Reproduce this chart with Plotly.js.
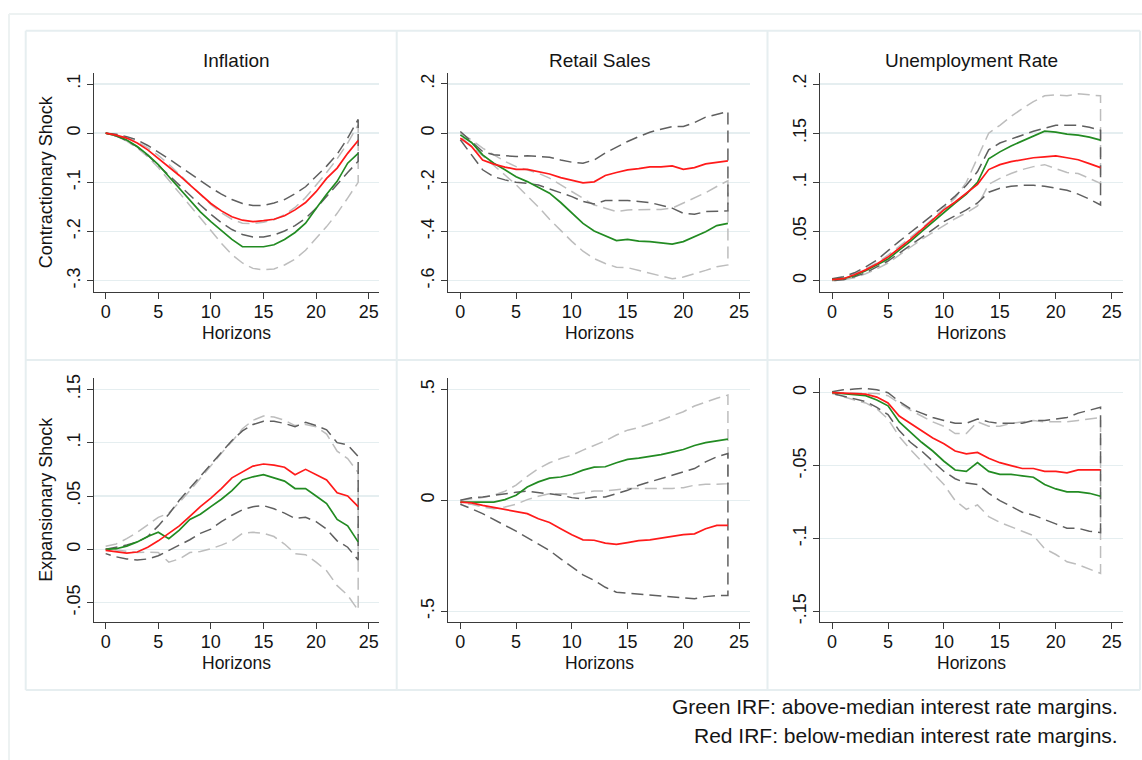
<!DOCTYPE html>
<html>
<head>
<meta charset="utf-8">
<script src="https://cdn.plot.ly/plotly-3.0.1.min.js"></script>
<style>html,body{margin:0;padding:0;background:#fff;}#chart{width:1142px;height:760px;}</style>
</head>
<body>
<div id="chart"></div>
<script>
// ---------- DATA ----------
const horizons = [0,1,2,3,4,5,6,7,8,9,10,11,12,13,14,15,16,17,18,19,20,21,22,23,24];

const panelTitles = ["Inflation", "Retail Sales", "Unemployment Rate"];
const rowTitles = ["Contractionary Shock", "Expansionary Shock"];
const xTitle = "Horizons";
const footerLines = ["Green IRF: above-median interest rate margins.", "Red IRF: below-median interest rate margins."];

// Inflation, contractionary
const infC_green   = [0,-0.005,-0.014,-0.027,-0.044,-0.064,-0.088,-0.112,-0.136,-0.16,-0.18,-0.199,-0.216,-0.231,-0.231,-0.231,-0.227,-0.216,-0.202,-0.183,-0.153,-0.124,-0.098,-0.061,-0.041];
const infC_red     = [0,-0.004,-0.01,-0.02,-0.034,-0.051,-0.068,-0.086,-0.105,-0.124,-0.143,-0.158,-0.17,-0.177,-0.18,-0.178,-0.175,-0.168,-0.156,-0.141,-0.119,-0.092,-0.071,-0.041,-0.015];
const infC_greenHi = [0,-0.003,-0.009,-0.018,-0.03,-0.045,-0.063,-0.083,-0.104,-0.125,-0.145,-0.162,-0.175,-0.183,-0.184,-0.181,-0.176,-0.166,-0.151,-0.131,-0.106,-0.08,-0.052,-0.02,0.017];
const infC_greenLo = [0,-0.006,-0.016,-0.03,-0.048,-0.07,-0.094,-0.12,-0.146,-0.172,-0.198,-0.224,-0.247,-0.264,-0.275,-0.278,-0.276,-0.268,-0.256,-0.238,-0.215,-0.19,-0.163,-0.132,-0.1];
const infC_redHi   = [0,-0.002,-0.007,-0.014,-0.025,-0.038,-0.052,-0.067,-0.082,-0.097,-0.111,-0.124,-0.135,-0.143,-0.147,-0.147,-0.142,-0.135,-0.123,-0.109,-0.089,-0.067,-0.043,-0.01,0.028];
const infC_redLo   = [0,-0.006,-0.015,-0.028,-0.045,-0.064,-0.085,-0.106,-0.126,-0.146,-0.165,-0.182,-0.196,-0.206,-0.211,-0.211,-0.207,-0.199,-0.188,-0.173,-0.153,-0.13,-0.105,-0.08,-0.057];

// Retail sales, contractionary
const rsC_green   = [-0.007,-0.038,-0.088,-0.122,-0.149,-0.177,-0.197,-0.22,-0.244,-0.282,-0.323,-0.367,-0.398,-0.417,-0.437,-0.432,-0.439,-0.441,-0.445,-0.451,-0.441,-0.421,-0.401,-0.376,-0.367];
const rsC_red     = [-0.02,-0.054,-0.109,-0.126,-0.138,-0.147,-0.147,-0.156,-0.166,-0.181,-0.193,-0.202,-0.198,-0.172,-0.16,-0.149,-0.144,-0.137,-0.137,-0.133,-0.147,-0.14,-0.125,-0.119,-0.113];
const rsC_greenHi = [0,-0.027,-0.061,-0.088,-0.115,-0.136,-0.149,-0.163,-0.183,-0.211,-0.238,-0.265,-0.292,-0.305,-0.319,-0.312,-0.312,-0.31,-0.31,-0.305,-0.285,-0.265,-0.242,-0.217,-0.193];
const rsC_greenLo = [-0.014,-0.05,-0.09,-0.13,-0.17,-0.21,-0.255,-0.3,-0.35,-0.395,-0.44,-0.48,-0.51,-0.53,-0.545,-0.547,-0.558,-0.568,-0.58,-0.592,-0.585,-0.572,-0.558,-0.543,-0.536];
const rsC_redHi   = [0.007,-0.034,-0.075,-0.088,-0.092,-0.095,-0.092,-0.095,-0.098,-0.109,-0.118,-0.122,-0.109,-0.081,-0.057,-0.034,-0.014,0.004,0.016,0.027,0.027,0.043,0.065,0.077,0.088];
const rsC_redLo   = [-0.027,-0.088,-0.149,-0.177,-0.19,-0.2,-0.204,-0.211,-0.224,-0.242,-0.258,-0.278,-0.288,-0.274,-0.274,-0.274,-0.278,-0.282,-0.292,-0.305,-0.326,-0.33,-0.319,-0.316,-0.316];

// Unemployment rate, contractionary
const urC_green   = [0.001,0.002,0.005,0.01,0.016,0.022,0.031,0.04,0.05,0.06,0.07,0.079,0.088,0.1,0.124,0.131,0.137,0.142,0.147,0.152,0.151,0.149,0.148,0.146,0.143];
const urC_red     = [0.001,0.002,0.006,0.011,0.017,0.024,0.033,0.042,0.052,0.062,0.072,0.08,0.089,0.098,0.113,0.118,0.121,0.123,0.125,0.126,0.127,0.125,0.123,0.119,0.115];
const urC_greenHi = [0.001,0.003,0.007,0.012,0.018,0.026,0.035,0.044,0.053,0.063,0.073,0.084,0.1,0.125,0.15,0.158,0.167,0.175,0.182,0.188,0.189,0.188,0.19,0.189,0.188];
const urC_greenLo = [0,0.001,0.003,0.007,0.012,0.018,0.026,0.034,0.042,0.049,0.056,0.063,0.069,0.076,0.098,0.104,0.109,0.113,0.116,0.118,0.114,0.11,0.109,0.104,0.099];
const urC_redHi   = [0.002,0.004,0.008,0.014,0.021,0.031,0.04,0.049,0.058,0.067,0.076,0.086,0.097,0.111,0.133,0.14,0.144,0.148,0.152,0.155,0.158,0.158,0.158,0.156,0.153];
const urC_redLo   = [0,0.001,0.004,0.008,0.014,0.02,0.028,0.036,0.044,0.052,0.06,0.066,0.072,0.079,0.09,0.094,0.096,0.097,0.097,0.096,0.094,0.092,0.088,0.083,0.077];

// Inflation, expansionary
const infE_green   = [0,0.0006,0.003,0.007,0.012,0.016,0.01,0.018,0.028,0.033,0.04,0.047,0.055,0.065,0.068,0.07,0.067,0.064,0.057,0.057,0.05,0.043,0.028,0.022,0.007];
const infE_red     = [-0.001,-0.0025,-0.0035,-0.0025,0.002,0.008,0.015,0.022,0.031,0.04,0.048,0.057,0.067,0.0725,0.078,0.08,0.079,0.077,0.07,0.075,0.07,0.065,0.053,0.05,0.04];
const infE_greenHi = [0.003,0.005,0.01,0.016,0.023,0.03,0.034,0.044,0.055,0.067,0.079,0.09,0.101,0.113,0.121,0.125,0.124,0.121,0.116,0.117,0.115,0.108,0.092,0.085,0.072];
const infE_greenLo = [0.0006,-0.001,-0.002,-0.003,-0.0025,-0.003,-0.012,-0.009,-0.003,-0.002,0.0006,0.004,0.008,0.015,0.016,0.015,0.012,0.005,-0.004,-0.005,-0.012,-0.02,-0.034,-0.043,-0.057];
const infE_redHi   = [0,0.002,0.004,0.007,0.012,0.022,0.033,0.046,0.057,0.069,0.08,0.091,0.102,0.111,0.117,0.12,0.12,0.118,0.115,0.119,0.116,0.112,0.1,0.098,0.087];
const infE_redLo   = [-0.004,-0.007,-0.009,-0.01,-0.009,-0.006,-0.001,0.004,0.009,0.015,0.019,0.026,0.032,0.037,0.04,0.041,0.038,0.034,0.029,0.03,0.026,0.019,0.008,0.002,-0.01];

// Retail sales, expansionary
const rsE_green   = [-0.008,-0.008,-0.008,-0.008,0.003,0.023,0.06,0.083,0.1,0.105,0.116,0.136,0.149,0.151,0.169,0.184,0.19,0.197,0.206,0.217,0.229,0.247,0.26,0.268,0.276];
const rsE_red     = [-0.008,-0.012,-0.023,-0.033,-0.042,-0.05,-0.06,-0.083,-0.1,-0.128,-0.155,-0.178,-0.18,-0.193,-0.199,-0.191,-0.182,-0.178,-0.17,-0.163,-0.155,-0.151,-0.128,-0.113,-0.113];
const rsE_greenHi = [0,0.006,0.012,0.023,0.041,0.068,0.108,0.143,0.169,0.188,0.203,0.226,0.248,0.268,0.294,0.316,0.328,0.343,0.361,0.38,0.399,0.425,0.444,0.46,0.474];
const rsE_greenLo = [-0.015,-0.018,-0.03,-0.038,-0.03,-0.018,0.003,0.018,0.03,0.03,0.027,0.035,0.042,0.042,0.048,0.053,0.053,0.053,0.053,0.053,0.057,0.068,0.072,0.072,0.075];
const rsE_redHi   = [0,0.011,0.015,0.023,0.03,0.036,0.041,0.035,0.03,0.023,0.012,0.006,0.015,0.015,0.03,0.045,0.068,0.083,0.098,0.116,0.128,0.143,0.173,0.196,0.211];
const rsE_redLo   = [-0.018,-0.038,-0.06,-0.087,-0.113,-0.139,-0.166,-0.196,-0.226,-0.264,-0.301,-0.336,-0.361,-0.392,-0.414,-0.419,-0.422,-0.429,-0.432,-0.437,-0.44,-0.444,-0.434,-0.429,-0.429];

// Unemployment rate, expansionary
const urE_green   = [0,-0.0005,-0.001,-0.002,-0.005,-0.009,-0.02,-0.027,-0.034,-0.04,-0.047,-0.053,-0.054,-0.048,-0.054,-0.056,-0.056,-0.057,-0.058,-0.063,-0.066,-0.068,-0.068,-0.069,-0.071];
const urE_red     = [0,-0.0002,-0.0005,-0.001,-0.003,-0.007,-0.016,-0.021,-0.026,-0.031,-0.035,-0.04,-0.042,-0.041,-0.045,-0.048,-0.05,-0.052,-0.052,-0.054,-0.054,-0.055,-0.053,-0.053,-0.053];
const urE_greenHi = [0,0,0,0,-0.0005,-0.002,-0.007,-0.012,-0.016,-0.02,-0.023,-0.028,-0.028,-0.02,-0.023,-0.023,-0.021,-0.02,-0.019,-0.02,-0.02,-0.02,-0.019,-0.018,-0.017];
const urE_greenLo = [-0.0005,-0.003,-0.005,-0.007,-0.011,-0.018,-0.03,-0.039,-0.047,-0.055,-0.063,-0.074,-0.08,-0.077,-0.085,-0.089,-0.092,-0.095,-0.098,-0.107,-0.111,-0.116,-0.118,-0.121,-0.124];
const urE_redHi   = [0.0007,0.002,0.0025,0.003,0.002,0,-0.006,-0.011,-0.014,-0.017,-0.019,-0.021,-0.021,-0.018,-0.02,-0.021,-0.021,-0.021,-0.019,-0.019,-0.018,-0.017,-0.014,-0.012,-0.01];
const urE_redLo   = [-0.0005,-0.002,-0.004,-0.006,-0.01,-0.015,-0.026,-0.034,-0.04,-0.047,-0.054,-0.059,-0.062,-0.063,-0.069,-0.074,-0.078,-0.082,-0.084,-0.087,-0.09,-0.093,-0.093,-0.095,-0.096];

// y-axis ticks per panel
const yTicks1 = [-0.3,-0.2,-0.1,0,0.1];      const yLabels1 = ["-.3","-.2","-.1","0",".1"];
const yTicks2 = [-0.6,-0.4,-0.2,0,0.2];      const yLabels2 = ["-.6","-.4","-.2","0",".2"];
const yTicks3 = [0,0.05,0.1,0.15,0.2];       const yLabels3 = ["0",".05",".1",".15",".2"];
const yTicks4 = [-0.05,0,0.05,0.1,0.15];     const yLabels4 = ["-.05","0",".05",".1",".15"];
const yTicks5 = [-0.5,0,0.5];                const yLabels5 = ["-.5","0",".5"];
const yTicks6 = [-0.15,-0.1,-0.05,0];        const yLabels6 = ["-.15","-.1","-.05","0"];
const xTicks = [0,5,10,15,20,25];

// ---------- STYLE / LAYOUT ----------
const W = 1142, H = 760;
const FONT = "Liberation Sans, Arial, Helvetica, sans-serif";
const GREEN = "#228B22", RED = "#ff1a1a", DARK = "#5f5f5f", LIGHT = "#bdbdbd";
const TXT = "#141414";
const px = v => v / W;
const py = v => 1 - v / H;

const panels = [
  {d:[infC_green,infC_red,infC_greenHi,infC_greenLo,infC_redHi,infC_redLo], yt:yTicks1, yl:yLabels1, yr:[-0.3224,0.1224], col:0, row:0},
  {d:[rsC_green,rsC_red,rsC_greenHi,rsC_greenLo,rsC_redHi,rsC_redLo], yt:yTicks2, yl:yLabels2, yr:[-0.6447,0.2447], col:1, row:0},
  {d:[urC_green,urC_red,urC_greenHi,urC_greenLo,urC_redHi,urC_redLo], yt:yTicks3, yl:yLabels3, yr:[-0.0112,0.2112], col:2, row:0},
  {d:[infE_green,infE_red,infE_greenHi,infE_greenLo,infE_redHi,infE_redLo], yt:yTicks4, yl:yLabels4, yr:[-0.0678,0.1606], col:0, row:1},
  {d:[rsE_green,rsE_red,rsE_greenHi,rsE_greenLo,rsE_redHi,rsE_redLo], yt:yTicks5, yl:yLabels5, yr:[-0.547,0.551], col:1, row:1},
  {d:[urE_green,urE_red,urE_greenHi,urE_greenLo,urE_redHi,urE_redLo], yt:yTicks6, yl:yLabels6, yr:[-0.1571,0.0101], col:2, row:1}
];
const colPx = [[94.3,379],[448.3,750],[820,1122.7]];
const rowPx = [[73,291.7],[378,621.7]];

const traces = [];
const layout = {
  width: W, height: H,
  margin: {l:0,r:0,t:0,b:0},
  paper_bgcolor: "#ffffff", plot_bgcolor: "#ffffff",
  showlegend: false,
  font: {family: FONT, color: TXT},
  annotations: [], shapes: []
};

const rev = a => a.slice().reverse();
const bandX = horizons.concat(rev(horizons));

panels.forEach((p, i) => {
  const n = i + 1;
  const xa = "x" + (n === 1 ? "" : n), ya = "y" + (n === 1 ? "" : n);
  const [g, r, gHi, gLo, rHi, rLo] = p.d;
  traces.push({x: bandX, y: gHi.concat(rev(gLo)), xaxis: xa, yaxis: ya, mode: "lines",
    line: {color: LIGHT, width: 1.5, dash: "12px,6px"}, hoverinfo: "skip"});
  traces.push({x: bandX, y: rHi.concat(rev(rLo)), xaxis: xa, yaxis: ya, mode: "lines",
    line: {color: DARK, width: 1.5, dash: "12px,6px"}, hoverinfo: "skip"});
  traces.push({x: horizons, y: g, xaxis: xa, yaxis: ya, mode: "lines",
    line: {color: GREEN, width: 1.7}, hoverinfo: "skip"});
  traces.push({x: horizons, y: r, xaxis: xa, yaxis: ya, mode: "lines",
    line: {color: RED, width: 1.7}, hoverinfo: "skip"});

  const cp = colPx[p.col], rp = rowPx[p.row];
  layout["xaxis" + (n === 1 ? "" : n)] = {
    domain: [px(cp[0]), px(cp[1])], anchor: ya, range: [-1.08, 25.98],
    tickvals: xTicks, ticks: "outside", ticklen: 6, tickwidth: 1, tickcolor: "#3a3a3a",
    showline: true, linecolor: "#3a3a3a", linewidth: 1, showgrid: false, zeroline: false,
    ticklabelstandoff: -2,
    tickfont: {size: 18, color: TXT, family: FONT}
  };
  layout["yaxis" + (n === 1 ? "" : n)] = {
    domain: [py(rp[1]), py(rp[0])], anchor: xa, range: p.yr,
    tickvals: p.yt, ticktext: p.yl, tickangle: -90,
    ticks: "outside", ticklen: 6, tickwidth: 1, tickcolor: "#3a3a3a",
    showline: true, linecolor: "#3a3a3a", linewidth: 1,
    showgrid: true, gridcolor: "#e5eef0", gridwidth: 1.5, zeroline: false,
    tickfont: {size: 18, color: TXT, family: FONT}
  };
  // x-axis title
  layout.annotations.push({text: xTitle, xref: "paper", yref: "paper",
    x: px((cp[0] + cp[1]) / 2), y: py(rp[1] + 41), xanchor: "center", yanchor: "middle",
    showarrow: false, font: {size: 17.5, color: TXT, family: FONT}});
  if (p.row === 0) {
    layout.annotations.push({text: panelTitles[p.col], xref: "paper", yref: "paper",
      x: px((cp[0] + cp[1]) / 2), y: py(60), xanchor: "center", yanchor: "middle",
      showarrow: false, font: {size: 19, color: TXT, family: FONT}});
  }
  if (p.col === 0) {
    layout.annotations.push({text: rowTitles[p.row], xref: "paper", yref: "paper",
      x: px(46), y: py((rp[0] + rp[1]) / 2), xanchor: "center", yanchor: "middle", textangle: -90,
      showarrow: false, font: {size: 18, color: TXT, family: FONT}});
  }
});

// footer notes
footerLines.forEach((t, k) => {
  layout.annotations.push({text: t, xref: "paper", yref: "paper", x: px(1120), y: py(k === 0 ? 706 : 735),
    xanchor: "right", yanchor: "middle", showarrow: false,
    font: {size: 21, color: TXT, family: FONT}});
});

// panel frames and outer frame
const frameColor = "#e6eef0";
const vx = [25.7, 396.7, 767.5, 1140], hy = [30.7, 360, 690];
vx.forEach(x => layout.shapes.push({type: "line", xref: "paper", yref: "paper", x0: px(x), x1: px(x), y0: py(hy[0]), y1: py(hy[2]), line: {color: frameColor, width: 2}, layer: "below"}));
hy.forEach(y => layout.shapes.push({type: "line", xref: "paper", yref: "paper", x0: px(vx[0]), x1: px(vx[3]), y0: py(y), y1: py(y), line: {color: frameColor, width: 2}, layer: "below"}));
layout.shapes.push({type: "line", xref: "paper", yref: "paper", x0: px(9), x1: px(9), y0: py(14), y1: py(762), line: {color: "#edf2f2", width: 2}, layer: "below"});
layout.shapes.push({type: "line", xref: "paper", yref: "paper", x0: px(9), x1: px(1145), y0: py(14), y1: py(14), line: {color: "#edf2f2", width: 2}, layer: "below"});

Plotly.newPlot("chart", traces, layout, {displayModeBar: false, staticPlot: true});
</script>
</body>
</html>
